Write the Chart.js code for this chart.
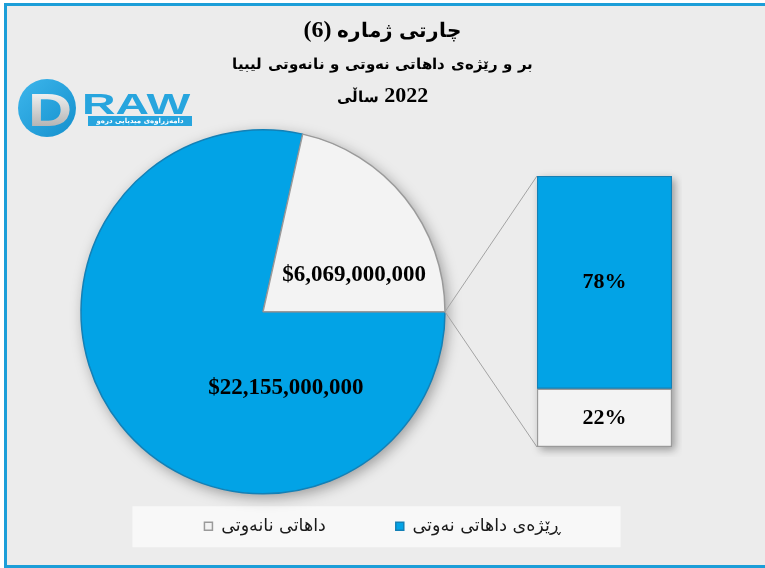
<!DOCTYPE html>
<html>
<head>
<meta charset="utf-8">
<script src="https://cdn.jsdelivr.net/npm/chart.js@4.4.1/dist/chart.umd.min.js"></script>
<style>
  @font-face { font-family: 'ArT'; src: local('DejaVu Sans Bold'), local('DejaVuSans-Bold'); font-weight: bold;
               unicode-range: U+0600-06FF, U+0750-077F, U+FB50-FDFF, U+FE70-FEFF; size-adjust: 85%; }
  @font-face { font-family: 'ArS'; src: local('DejaVu Sans Bold'), local('DejaVuSans-Bold'); font-weight: bold;
               unicode-range: U+0600-06FF, U+0750-077F, U+FB50-FDFF, U+FE70-FEFF; size-adjust: 68%; }
  html, body { margin: 0; padding: 0; background: #ffffff; overflow: hidden; }
  #frame { position: absolute; left: 4px; top: 3px; width: 758px; height: 559px; background: #ececec;
           border-top: 3px solid #1c9ed8; border-left: 3px solid #1c9ed8; border-bottom: 3px solid #1c9ed8; }
  #pie { position: absolute; left: 0; top: 0; direction: rtl; }
  #bar { position: absolute; left: 527px; top: 166px; }
</style>
</head>
<body>
<div id="frame"></div>
<canvas id="pie" width="765" height="568"></canvas>
<canvas id="bar" width="155" height="291"></canvas>
<script>
// ---------- data ----------
const categories = ['ڕێژەی داهاتی نەوتی', 'داهاتی نانەوتی'];
const revenueUSD = [22155000000, 6069000000];
const titleText = 'چارتی ژمارە (6)';
const subtitleLines = ['بر و رێژەی داهاتی نەوتی و نانەوتی لیبیا', '2022 ساڵی'];

// ---------- styles ----------
const fills   = ['#02a3e6', '#f3f3f3'];
const borders = ['#1380b6', '#9a9a9a'];
const labelAnchors = [{a: 0.26, r: 0.44}, {a: 0.716, r: 0.54}]; // label placement inside each slice
const numFont = 'bold 23px "Liberation Serif", "Times New Roman", serif';

const total = revenueUSD.reduce((s, v) => s + v, 0);
const fmtMoney = v => '$' + v.toLocaleString('en-US');
const fmtPct = v => Math.round(v / total * 100) + '%';

// ---------- bar (second plot) ----------
const barOrder = [1, 0]; // non-oil at the bottom, oil stacked on top
const barShadow = {
  id: 'barShadow',
  beforeDatasetsDraw(chart) {
    const top = chart.getDatasetMeta(1).data[0];
    const bot = chart.getDatasetMeta(0).data[0];
    if (!top || !bot) return;
    const ctx = chart.ctx;
    ctx.save();
    ctx.shadowColor = 'rgba(0,0,0,0.35)';
    ctx.shadowBlur = 8; ctx.shadowOffsetX = 3; ctx.shadowOffsetY = 3;
    ctx.fillStyle = '#cccccc';
    ctx.fillRect(top.x - top.width / 2, top.y, top.width, bot.base - top.y);
    ctx.restore();
  },
  afterDatasetsDraw(chart) {
    const ctx = chart.ctx;
    ctx.save();
    ctx.direction = 'ltr';
    ctx.font = 'bold 22px "Liberation Serif", "Times New Roman", serif';
    ctx.fillStyle = '#000';
    ctx.textAlign = 'center'; ctx.textBaseline = 'middle';
    chart.data.datasets.forEach((ds, di) => {
      const el = chart.getDatasetMeta(di).data[0];
      const c = el.getCenterPoint();
      ctx.fillText(fmtPct(ds.data[0]), c.x, c.y);
    });
    ctx.restore();
  }
};

const barChart = new Chart(document.getElementById('bar'), {
  type: 'bar',
  data: {
    labels: [''],
    datasets: barOrder.map(i => ({
      label: categories[i],
      data: [revenueUSD[i]],
      backgroundColor: fills[i],
      borderColor: borders[i],
      borderWidth: 1.5,
      borderSkipped: false,
      barPercentage: 1,
      categoryPercentage: 1
    }))
  },
  options: {
    responsive: false, animation: false,
    layout: { padding: 10 },
    plugins: { legend: { display: false }, tooltip: { enabled: false } },
    scales: {
      x: { display: false, stacked: true },
      y: { display: false, stacked: true, min: 0, max: total }
    }
  },
  plugins: [barShadow]
});

// ---------- pie ----------
function drawLogo(ctx) {
  ctx.save();
  ctx.direction = 'ltr';
  const g = ctx.createLinearGradient(18, 80, 76, 136);
  g.addColorStop(0, '#3db6ec'); g.addColorStop(1, '#1490cd');
  ctx.fillStyle = g;
  ctx.beginPath(); ctx.arc(47, 108, 29, 0, Math.PI * 2); ctx.fill();
  ctx.save();
  ctx.translate(28, 126); ctx.scale(1.3, 1);
  const gd = ctx.createLinearGradient(0, -36, 0, 0);
  gd.addColorStop(0, '#f6f6f6'); gd.addColorStop(1, '#b5b5b5');
  ctx.fillStyle = gd;
  ctx.font = 'bold 47px "Liberation Sans", Arial, sans-serif';
  ctx.textAlign = 'left'; ctx.textBaseline = 'alphabetic';
  ctx.fillText('D', 0, 0);
  ctx.restore();
  ctx.save();
  ctx.translate(82, 114); ctx.scale(1.6, 1);
  ctx.fillStyle = '#27a5de';
  ctx.font = 'bold 29px "Liberation Sans", Arial, sans-serif';
  ctx.textAlign = 'left'; ctx.textBaseline = 'alphabetic';
  ctx.fillText('RAW', 0, 0);
  ctx.restore();
  ctx.fillStyle = '#27a5de';
  ctx.fillRect(88, 116, 104, 10);
  ctx.fillStyle = '#ffffff';
  ctx.font = 'bold 7px "DejaVu Sans", sans-serif';
  ctx.textAlign = 'center'; ctx.textBaseline = 'middle';
  ctx.fillText('دامەزراوەی میدیایی درەو', 140, 121);
  ctx.restore();
}

const piePlugin = {
  id: 'piePlugin',
  beforeDraw(chart) {
    const ctx = chart.ctx;
    drawLogo(ctx);
    // legend background panel
    const lg = chart.legend;
    if (lg && lg.legendHitBoxes && lg.legendHitBoxes.length) {
      const hb = lg.legendHitBoxes;
      const l = Math.min(...hb.map(h => h.left));
      const r = Math.max(...hb.map(h => h.left + h.width));
      const cy = hb[0].top + hb[0].height / 2;
      ctx.save();
      ctx.fillStyle = '#f8f8f8';
      ctx.fillRect(l - 72, cy - 20, (r - l) + 132, 41);
      ctx.restore();
    }
  },
  beforeDatasetsDraw(chart) {
    const arc = chart.getDatasetMeta(0).data[0];
    if (!arc) return;
    const ctx = chart.ctx;
    ctx.save();
    ctx.shadowColor = 'rgba(0,0,0,0.35)';
    ctx.shadowBlur = 14; ctx.shadowOffsetX = 3; ctx.shadowOffsetY = 4;
    ctx.fillStyle = '#bdbdbd';
    ctx.beginPath(); ctx.arc(arc.x, arc.y, arc.outerRadius, 0, Math.PI * 2); ctx.fill();
    ctx.restore();
  },
  afterDatasetsDraw(chart) {
    const ctx = chart.ctx;
    const meta = chart.getDatasetMeta(0);
    const blue = meta.data[0];
    // connector lines from the split point to the bar's corners
    const bc = document.getElementById('bar');
    const dx = bc.offsetLeft - chart.canvas.offsetLeft;
    const dy = bc.offsetTop - chart.canvas.offsetTop;
    const topEl = barChart.getDatasetMeta(1).data[0];
    const botEl = barChart.getDatasetMeta(0).data[0];
    const px = blue.x + Math.cos(blue.startAngle) * blue.outerRadius;
    const py = blue.y + Math.sin(blue.startAngle) * blue.outerRadius;
    const bl = topEl.x - topEl.width / 2 + dx;
    ctx.save();
    ctx.strokeStyle = '#a3a3a3'; ctx.lineWidth = 1;
    ctx.beginPath();
    ctx.moveTo(px, py); ctx.lineTo(bl, topEl.y + dy);
    ctx.moveTo(px, py); ctx.lineTo(bl, botEl.base + dy);
    ctx.stroke();
    ctx.restore();
    // value labels
    ctx.save();
    ctx.direction = 'ltr';
    ctx.font = numFont; ctx.fillStyle = '#000';
    ctx.textAlign = 'center'; ctx.textBaseline = 'middle';
    meta.data.forEach((el, i) => {
      const an = labelAnchors[i];
      const ang = el.startAngle + an.a * (el.endAngle - el.startAngle);
      const rr = an.r * el.outerRadius;
      ctx.fillText(fmtMoney(revenueUSD[i]), el.x + Math.cos(ang) * rr, el.y + Math.sin(ang) * rr);
    });
    ctx.restore();
  }
};

const pieChart = new Chart(document.getElementById('pie'), {
  type: 'pie',
  data: {
    labels: categories,
    datasets: [{
      data: revenueUSD,
      backgroundColor: fills,
      borderColor: borders,
      borderWidth: 1.5,
      hoverOffset: 0,
      radius: 182,
      clip: false
    }]
  },
  options: {
    responsive: false, animation: false,
    rotation: 90,
    layout: { padding: { top: 0, bottom: 23, left: 0, right: 0 } },
    scales: {
      spacer: {
        type: 'linear', position: 'right', display: true, min: 0, max: 1,
        grid: { display: false }, ticks: { display: false }, border: { display: false },
        afterFit(s) { s.width = 239; }
      }
    },
    plugins: {
      title: {
        display: true, text: titleText, color: '#000',
        font: { family: 'ArT, "Liberation Serif", serif', size: 24, weight: 'bold', lineHeight: 1.2 },
        padding: { top: 16.6, bottom: 0 }
      },
      subtitle: {
        display: true, text: subtitleLines, color: '#000',
        font: { family: 'ArS, "Liberation Serif", serif', size: 22, weight: 'bold', lineHeight: 1.5 },
        padding: { top: 1.1, bottom: 63.5 }
      },
      legend: {
        position: 'bottom', reverse: true,
        labels: {
          boxWidth: 8, boxHeight: 8, padding: 70, color: '#1a1a1a',
          font: { family: '"DejaVu Sans", sans-serif', size: 17.5 }
        }
      },
      tooltip: { enabled: false }
    }
  },
  plugins: [piePlugin]
});

// re-layout once the size-adjusted Arabic faces are ready
Promise.all([
  document.fonts.load('bold 24px ArT', 'چارتی'),
  document.fonts.load('bold 22px ArS', 'چارتی')
]).then(() => pieChart.update()).catch(() => {});
</script>
</body>
</html>
